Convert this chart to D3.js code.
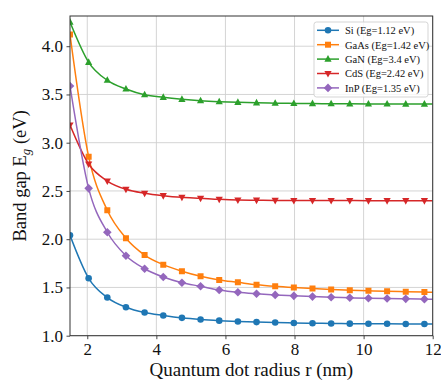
<!DOCTYPE html>
<html>
<head>
<meta charset="utf-8">
<script src="https://cdn.jsdelivr.net/npm/d3@7"></script>
<style>
  body { margin: 0; background: #fff; }
  svg text { font-family: "Liberation Serif", "Times New Roman", Times, "DejaVu Serif", serif !important; }
</style>
</head>
<body>
<svg id="chart" width="441" height="380"></svg>
<script>
// radius sample points (markers), last value is line end only
const radius = [1.50, 2.04, 2.58, 3.12, 3.66, 4.20, 4.74, 5.28, 5.82, 6.36,
  6.90, 7.44, 7.98, 8.52, 9.06, 9.60, 10.14, 10.68, 11.22, 11.76, 12.0];

const siValues = [2.04, 1.595, 1.395, 1.295, 1.24, 1.21, 1.185, 1.168, 1.156, 1.147,
  1.141, 1.136, 1.132, 1.129, 1.127, 1.125, 1.124, 1.123, 1.122, 1.121, 1.12];
const gaasValues = [4.12, 2.855, 2.30, 2.01, 1.836, 1.736, 1.667, 1.615, 1.577, 1.553,
  1.529, 1.512, 1.499, 1.488, 1.479, 1.472, 1.466, 1.460, 1.456, 1.452, 1.45];
const ganValues = [4.25, 3.833, 3.647, 3.557, 3.497, 3.47, 3.45, 3.435, 3.425, 3.418,
  3.413, 3.41, 3.407, 3.405, 3.404, 3.403, 3.402, 3.401, 3.40, 3.40, 3.40];
const cdsValues = [3.183, 2.779, 2.603, 2.517, 2.476, 2.451, 2.434, 2.424, 2.413, 2.406,
  2.404, 2.402, 2.401, 2.40, 2.40, 2.40, 2.399, 2.399, 2.399, 2.399, 2.399];
const inpValues = [3.588, 2.527, 2.072, 1.829, 1.694, 1.608, 1.549, 1.512, 1.474, 1.45,
  1.435, 1.423, 1.413, 1.405, 1.398, 1.393, 1.388, 1.385, 1.382, 1.379, 1.378];

const seriesNames = ['Si (Eg=1.12 eV)', 'GaAs (Eg=1.42 eV)', 'GaN (Eg=3.4 eV)', 'CdS (Eg=2.42 eV)', 'InP (Eg=1.35 eV)'];
const seriesValues = [siValues, gaasValues, ganValues, cdsValues, inpValues];
const seriesColors = ['#1f77b4', '#ff7f0e', '#2ca02c', '#d62728', '#9467bd'];
const seriesMarkers = ['circle', 'square', 'triangle', 'down', 'diamond'];

const xTicks = [2, 4, 6, 8, 10, 12];
const yTicks = [1.0, 1.5, 2.0, 2.5, 3.0, 3.5, 4.0];

const margin = { left: 70, right: 8.3, top: 16, bottom: 44.3 };
const width = 441, height = 380;

const svg = d3.select('#chart');

const x = d3.scaleLinear().domain([1.5, 12]).range([margin.left, width - margin.right]);
const y = d3.scaleLinear().domain([1.0, 4.313]).range([height - margin.bottom, margin.top]);

// grid
svg.append('g')
  .selectAll('line')
  .data(xTicks)
  .enter()
  .append('line')
  .attr('x1', d => x(d)).attr('x2', d => x(d))
  .attr('y1', y.range()[0]).attr('y2', y.range()[1])
  .attr('stroke', '#cfcfcf').attr('stroke-width', 0.9);

svg.append('g')
  .selectAll('line')
  .data(yTicks)
  .enter()
  .append('line')
  .attr('x1', x.range()[0]).attr('x2', x.range()[1])
  .attr('y1', d => y(d)).attr('y2', d => y(d))
  .attr('stroke', '#cfcfcf').attr('stroke-width', 0.9);

// clip for lines
svg.append('clipPath').attr('id', 'plot')
  .append('rect')
  .attr('x', x.range()[0]).attr('y', y.range()[1])
  .attr('width', x.range()[1] - x.range()[0])
  .attr('height', y.range()[0] - y.range()[1]);

const line = d3.line()
  .x((d, i) => x(radius[i]))
  .y(d => y(d))
  .curve(d3.curveMonotoneX);

function markerPath(type) {
  if (type === 'circle') return d3.symbol(d3.symbolCircle, 34)();
  if (type === 'square') return d3.symbol(d3.symbolSquare, 36)();
  if (type === 'diamond') return 'M0,-4.3L4.3,0L0,4.3L-4.3,0Z';
  if (type === 'triangle') return 'M0,-4L3.6,2.6L-3.6,2.6Z';
  return 'M0,4L3.6,-2.6L-3.6,-2.6Z';
}

const plot = svg.append('g').attr('clip-path', 'url(#plot)');

seriesValues.forEach((vals, s) => {
  const g = plot.append('g');
  g.append('path')
    .datum(vals)
    .attr('d', line)
    .attr('fill', 'none')
    .attr('stroke', seriesColors[s])
    .attr('stroke-width', 1.5);
  g.selectAll('path.m')
    .data(vals.slice(0, radius.length - 1))
    .enter()
    .append('path')
    .attr('class', 'm')
    .attr('d', markerPath(seriesMarkers[s]))
    .attr('transform', (d, i) => `translate(${x(radius[i])},${y(d)})`)
    .attr('fill', seriesColors[s]);
});

// axes
const xAxis = svg.append('g')
  .attr('transform', `translate(0,${y.range()[0]})`)
  .call(d3.axisBottom(x).tickValues(xTicks).tickFormat(d3.format('d')).tickSize(3.5).tickPadding(3.5));
const yAxis = svg.append('g')
  .attr('transform', `translate(${x.range()[0]},0)`)
  .call(d3.axisLeft(y).tickValues(yTicks).tickFormat(d3.format('.1f')).tickSize(3.5).tickPadding(3.5));

[xAxis, yAxis].forEach(a => {
  a.attr('font-family', null);
  a.select('.domain').remove();
  a.selectAll('.tick line').attr('stroke', '#333').attr('stroke-width', 0.9);
  a.selectAll('.tick text')
    .attr('fill', '#111')
    .style('font-size', '17px');
});

// frame
svg.append('rect')
  .attr('x', x.range()[0]).attr('y', y.range()[1])
  .attr('width', x.range()[1] - x.range()[0])
  .attr('height', y.range()[0] - y.range()[1])
  .attr('fill', 'none').attr('stroke', '#333').attr('stroke-width', 1);

// labels
svg.append('text')
  .attr('x', (x.range()[0] + x.range()[1]) / 2)
  .attr('y', 375.5)
  .attr('text-anchor', 'middle')
  .style('font-size', '19px')
  .attr('fill', '#111')
  .text('Quantum dot radius r (nm)');

const yl = svg.append('text')
  .attr('transform', `translate(26,${(y.range()[0] + y.range()[1]) / 2}) rotate(-90)`)
  .attr('text-anchor', 'middle')
  .style('font-size', '18.5px')
  .attr('fill', '#111');
yl.append('tspan').text('Band gap E');
yl.append('tspan').attr('font-style', 'italic').attr('dy', 4).style('font-size', '13px').text('g');
yl.append('tspan').attr('dy', -4).text(' (eV)');

// legend
const legend = svg.append('g').attr('transform', 'translate(314,22)');
legend.append('rect')
  .attr('width', 114).attr('height', 75)
  .attr('rx', 2.5)
  .attr('fill', 'rgba(255,255,255,0.8)')
  .attr('stroke', '#d0d0d0').attr('stroke-width', 0.9);
seriesNames.forEach((name, s) => {
  const row = legend.append('g').attr('transform', `translate(0,${8.3 + s * 14.4})`);
  row.append('line')
    .attr('x1', 3).attr('x2', 25)
    .attr('stroke', seriesColors[s]).attr('stroke-width', 1.5);
  row.append('path')
    .attr('d', markerPath(seriesMarkers[s]))
    .attr('transform', 'translate(14,0)')
    .attr('fill', seriesColors[s]);
  row.append('text')
    .attr('x', 31).attr('y', 3.8)
    .style('font-size', '10.5px')
    .attr('fill', '#111')
    .text(name);
});
</script>
</body>
</html>
